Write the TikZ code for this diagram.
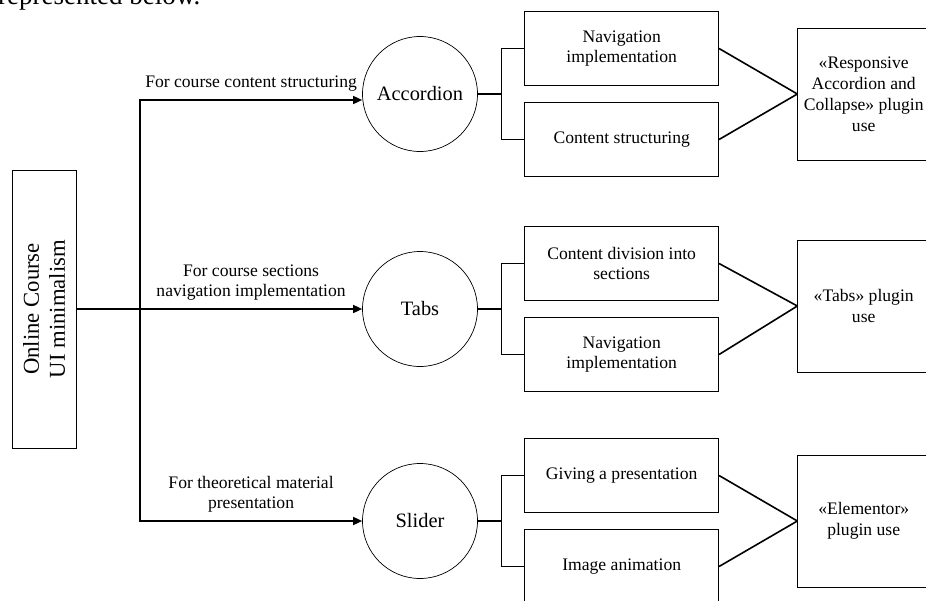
\documentclass[tikz,border=0pt]{standalone}
\usepackage{fontspec}
\setmainfont{Liberation Serif}
\usepackage{tikz}
\usetikzlibrary{positioning,arrows.meta}

\begin{document}
\begin{tikzpicture}[
  x=1pt, y=-1pt,
  base/.style={draw,line width=0.7pt},
  topic/.style={base,align=center,rotate=90,minimum width=278pt,minimum height=64pt,font=\fontsize{22.7}{26}\selectfont},
  tool/.style={base,circle,minimum size=115pt,inner sep=0pt,font=\fontsize{20.4}{24}\selectfont},
  task/.style={base,align=center,minimum width=194pt,minimum height=74pt,inner sep=2pt,font=\fontsize{17.6}{20}\selectfont},
  plugin/.style={base,align=center,minimum width=132pt,minimum height=132pt,inner sep=2pt,font=\fontsize{17.6}{21}\selectfont},
  why/.style={above=6pt,inner sep=2pt,align=center,font=\fontsize{17.6}{20}\selectfont},
  conn/.style={line width=1.6pt},
  arr/.style={conn,-{Triangle[length=9pt,width=8pt]}},
]
  \useasboundingbox (0,0) rectangle (926,600);
  \clip (0,0) rectangle (926,600);

  \node[anchor=base west,inner sep=0pt,font=\fontsize{27}{30}\selectfont] (intro) at (-2,4) {represented below.};

  \node[topic] (root) at (44,309) {Online Course\\UI minimalism};
  \coordinate (split) at (140,309);

  \node[tool] (acc) at (420,94) {Accordion};
  \node[tool] (tabs) at (420,309) {Tabs};
  \node[tool] (sld) at (420,521) {Slider};

  % what each component is used for
  \node[task,right=46.5pt of acc,yshift=45.5pt] (acc1) {Navigation\\implementation};
  \node[task,right=46.5pt of acc,yshift=-45.5pt] (acc2) {Content structuring};
  \node[task,right=46.5pt of tabs,yshift=45.5pt] (tabs1) {Content division into\\sections};
  \node[task,right=46.5pt of tabs,yshift=-45.5pt] (tabs2) {Navigation\\implementation};
  \node[task,right=46.5pt of sld,yshift=45.5pt] (sld1) {Giving a presentation};
  \node[task,right=46.5pt of sld,yshift=-45.5pt] (sld2) {Image animation};

  % plugins
  \node[plugin,right=319.5pt of acc] (accp) {«Responsive\\Accordion and\\Collapse» plugin\\use};
  \node[plugin,right=319.5pt of tabs,yshift=3pt] (tabsp) {«Tabs» plugin\\use};
  \node[plugin,right=319.5pt of sld] (sldp) {«Elementor»\\plugin use};

  \draw[conn] (root) -- (split);
  \draw[arr] (split) |- node[why,pos=0.75] {For course content structuring} ([yshift=-6pt]acc.west);
  \draw[arr] (split) -- node[why] {For course sections\\navigation implementation} (tabs);
  \draw[arr] (split) |- node[why,pos=0.75] {For theoretical material\\presentation} (sld);

  \draw[conn] (acc.east) -- ++(23.5,0) |- (acc1.west);
  \draw[conn] (acc.east) -- ++(23.5,0) |- (acc2.west);
  \draw[conn] (tabs.east) -- ++(23.5,0) |- (tabs1.west);
  \draw[conn] (tabs.east) -- ++(23.5,0) |- (tabs2.west);
  \draw[conn] (sld.east) -- ++(23.5,0) |- (sld1.west);
  \draw[conn] (sld.east) -- ++(23.5,0) |- (sld2.west);

  \draw[conn] (acc1.east) -- (accp.west);
  \draw[conn] (acc2.east) -- (accp.west);
  \draw[conn] (tabs1.east) -- (tabsp.west);
  \draw[conn] (tabs2.east) -- (tabsp.west);
  \draw[conn] (sld1.east) -- (sldp.west);
  \draw[conn] (sld2.east) -- (sldp.west);
\end{tikzpicture}
\end{document}
